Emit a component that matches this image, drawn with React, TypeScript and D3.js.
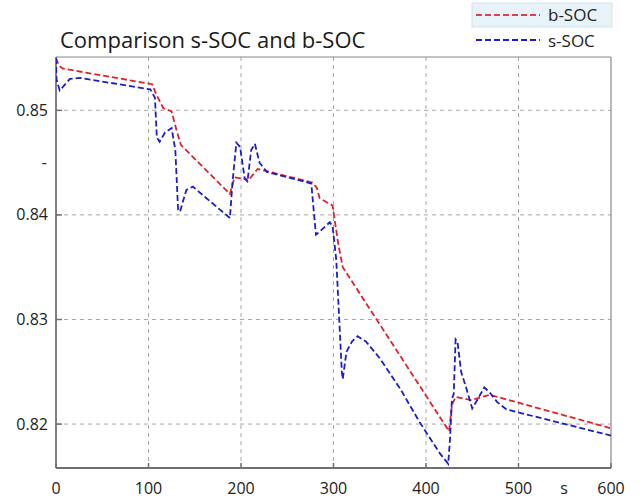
import React from "react";
import * as d3 from "d3";

const bTime = [0, 3, 7, 104, 108, 116, 125, 130, 135, 188, 193, 206, 207, 218, 277, 282, 285, 299, 305, 310, 425, 428, 432, 449, 469, 600];
const bSoc = [0.855, 0.8543, 0.854, 0.8525, 0.8516, 0.8502, 0.8499, 0.8482, 0.8467, 0.842, 0.8436, 0.8434, 0.8432, 0.8444, 0.8431, 0.8426, 0.8416, 0.8409, 0.8373, 0.835, 0.8193, 0.8218, 0.8226, 0.8223, 0.8228, 0.8196];

const sTime = [0, 0.5, 4, 15, 26, 102, 107, 109, 112, 118, 125, 129, 132, 134, 141, 148, 188, 191, 195, 199, 204, 207, 211, 215, 220, 228, 276, 281, 285, 296, 299, 303, 309, 310, 314, 320, 326, 335, 350, 372, 393, 415, 424, 426, 428, 430, 432, 434, 438, 444, 450, 456, 463, 469, 477, 487, 600];
const sSoc = [0.855, 0.853, 0.8519, 0.853, 0.8531, 0.852, 0.8512, 0.8474, 0.847, 0.8479, 0.8483, 0.8462, 0.8405, 0.8403, 0.8424, 0.8427, 0.8397, 0.8433, 0.8469, 0.8465, 0.8435, 0.8432, 0.8462, 0.8468, 0.845, 0.8441, 0.843, 0.8381, 0.8384, 0.8393, 0.8389, 0.8357, 0.825, 0.8243, 0.8269, 0.8279, 0.8284, 0.8279, 0.8263, 0.8234, 0.8202, 0.8172, 0.8162, 0.8186, 0.8224, 0.8229, 0.8281, 0.8279, 0.825, 0.8233, 0.8215, 0.8224, 0.8235, 0.823, 0.8221, 0.8214, 0.8189];

const xTicks = [0, 100, 200, 300, 400, 500, 600];
const xTickLabels = ["0", "100", "200", "300", "400", "500", "600"];
const yTicks = [0.82, 0.83, 0.84, 0.845, 0.85];
const yTickLabels = ["0.82", "0.83", "0.84", "-", "0.85"];
const yGrid = [0.82, 0.83, 0.84, 0.85];
const xGrid = [100, 200, 300, 400, 500];
const seriesNames = ["b-SOC", "s-SOC"];

const W = 644, H = 501;
const L = 56, R = 611, T = 57, B = 468;
const FONT = "'Open Sans', sans-serif";

export default function App() {
  const x = d3.scaleLinear().domain([0, 600]).range([L, R]);
  const y = d3.scaleLinear().domain([0.8158, 0.8551]).range([B, T]);
  const line = d3.line<[number, number]>().x(d => x(d[0])).y(d => y(d[1]));
  const bPts = bTime.map((t, i) => [t, bSoc[i]] as [number, number]);
  const sPts = sTime.map((t, i) => [t, sSoc[i]] as [number, number]);
  const red = "#e3202a";
  const blue = "#1c1ccc";
  return (
    <svg width={W} height={H} style={{ position: "absolute", left: 0, top: 0, background: "#fff" }} fontFamily={FONT}>
      <rect x={0} y={0} width={W} height={H} fill="#fff" />
      {xGrid.map(v => (
        <line key={"gx" + v} x1={x(v)} x2={x(v)} y1={T} y2={B} stroke="#a8a8a8" strokeWidth={1} strokeDasharray="4,4" />
      ))}
      {yGrid.map(v => (
        <line key={"gy" + v} x1={L} x2={R} y1={y(v)} y2={y(v)} stroke="#a8a8a8" strokeWidth={1} strokeDasharray="4,4" />
      ))}
      <line x1={L} x2={R} y1={T} y2={T} stroke="#8a8a8a" strokeWidth={1.2} />
      <line x1={R} x2={R} y1={T} y2={B} stroke="#8a8a8a" strokeWidth={1.2} />
      <line x1={L} x2={L} y1={T} y2={B} stroke="#707070" strokeWidth={1.8} />
      <line x1={L} x2={R} y1={B} y2={B} stroke="#707070" strokeWidth={1.8} />
      {xTicks.map(v => (
        <line key={"tx" + v} x1={x(v)} x2={x(v)} y1={B} y2={B - 5} stroke="#707070" strokeWidth={1.5} />
      ))}
      {yGrid.map(v => (
        <line key={"ty" + v} x1={L} x2={L + 6} y1={y(v)} y2={y(v)} stroke="#707070" strokeWidth={1.5} />
      ))}
      <defs>
        <clipPath id="clip">
          <rect x={L} y={T - 2} width={R - L} height={B - T + 2} />
        </clipPath>
      </defs>
      <g clipPath="url(#clip)">
        <path d={line(bPts) || ""} fill="none" stroke={red} strokeWidth={1.8} strokeDasharray="6,3" />
        <path d={line(sPts) || ""} fill="none" stroke={blue} strokeWidth={1.8} strokeDasharray="6,3" />
      </g>
      {xTicks.map((v, i) => (
        <text key={"lx" + v} x={x(v)} y={494} fontSize={16} textAnchor="middle" fill="#222">{xTickLabels[i]}</text>
      ))}
      <text x={564} y={494} fontSize={16} textAnchor="middle" fill="#222">s</text>
      {yTicks.map((v, i) => (
        <text key={"ly" + v} x={i === 3 ? 47 : 48} y={y(v) + 5.5} fontSize={16} textAnchor="end" fill="#222">{yTickLabels[i]}</text>
      ))}
      <text x={60} y={48} fontSize={22} fill="#1a1a1a">Comparison s-SOC and b-SOC</text>
      <rect x={472} y={3} width={140} height={24} fill="#e8f3f9" stroke="#cfe3ee" strokeWidth={1} />
      <line x1={476} x2={540} y1={15} y2={15} stroke="#d9434f" strokeWidth={1.8} strokeDasharray="6,3" />
      <text x={548} y={21} fontSize={17} fill="#222">{seriesNames[0]}</text>
      <line x1={476} x2={540} y1={40} y2={40} stroke={blue} strokeWidth={1.8} strokeDasharray="6,3" />
      <text x={548} y={47} fontSize={17} fill="#222">{seriesNames[1]}</text>
    </svg>
  );
}
